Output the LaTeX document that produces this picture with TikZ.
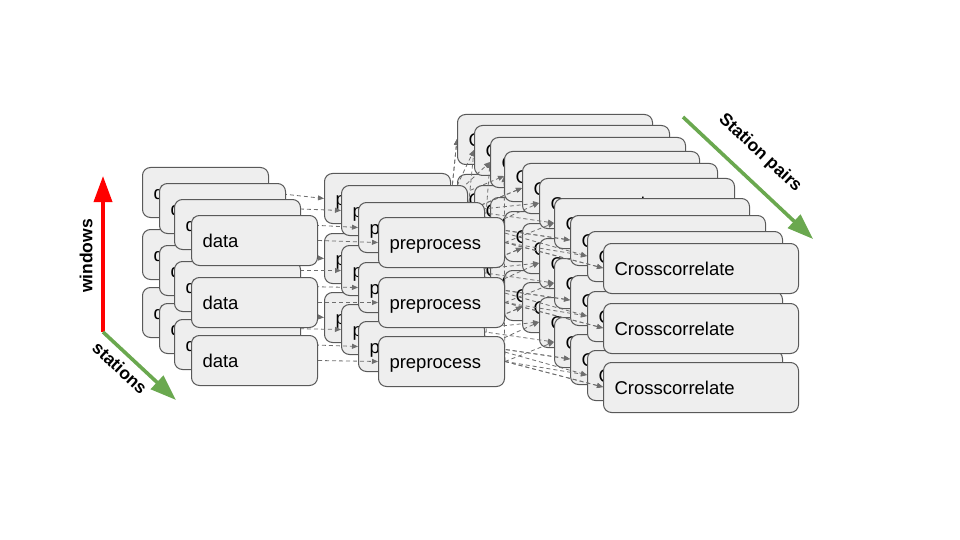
\documentclass[tikz,border=0pt]{standalone}
\usepackage{fontspec}
\setmainfont{Liberation Sans}
\usetikzlibrary{arrows.meta}
\pgfdeclarelayer{back}
\pgfsetlayers{back,main}
\definecolor{boxfill}{HTML}{EEEEEE}
\definecolor{boxline}{HTML}{595959}
\definecolor{conncol}{HTML}{6E6E6E}
\definecolor{axgreen}{HTML}{6AA84F}
\definecolor{axred}{HTML}{FF0000}
\newcommand{\bxstrut}{\rule[-3pt]{0pt}{20pt}}
\begin{document}
\begin{tikzpicture}[x=1pt,y=-1pt,
  box/.style={draw=boxline, fill=boxfill, line width=1pt, rounded corners=8pt,
    minimum height=50pt, inner xsep=11pt, inner ysep=0pt, align=left,
    anchor=north west, font=\fontsize{18.5}{22}\selectfont},
  dbox/.style={box, text width=104pt},
  cbox/.style={box, text width=173pt},
  conn/.style={draw=conncol, line width=0.8pt, dash pattern=on 4pt off 3pt,
    -{Triangle[length=6pt,width=5pt]}},
  lbl/.style={font=\bfseries\fontsize{17.5}{21}\selectfont, inner sep=0pt},
  bigarrow/.style={line width=3.6pt, -{Triangle[length=26pt,width=18pt]}}
]
\useasboundingbox (0,0) rectangle (960,540);

% ---- crosscorrelate stack: entry points ----
\begin{pgfonlayer}{back}
\foreach \k/\a/\b/\x/\y in {1/1/1/457/114, 2/1/2/474/125, 3/1/3/490/137,
    4/1/4/504/151, 5/2/2/522/163, 6/2/3/539/178, 7/2/4/554/198,
    8/3/3/570/215, 9/3/4/587/231, 10/4/4/603/243}{
  \foreach \r/\dy in {1/0, 2/60, 3/119}{
    \coordinate (cw-\k-\r) at (\x, \y+\dy+25);
  }
}
\end{pgfonlayer}

% ---- data and preprocess stacks ----
\foreach \i/\dx/\dyy/\px/\pyy in {1/142/167/324/173, 2/159/183/341/185,
    3/174/199/358/202, 4/191/215/378/217}{
  \foreach \r/\ddy/\pdy in {1/0/0, 2/62/60, 3/120/119}{
    \node[dbox] (d-\i-\r) at (\dx, \dyy+\ddy) {\bxstrut data};
    \node[dbox] (p-\i-\r) at (\px, \pyy+\pdy) {\bxstrut preprocess};
    \draw[conn] (d-\i-\r.east) -- (p-\i-\r.west);
  }
}

% ---- crosscorrelate stack (behind) ----
\begin{pgfonlayer}{back}
\foreach \k/\a/\b/\x/\y in {1/1/1/457/114, 2/1/2/474/125, 3/1/3/490/137,
    4/1/4/504/151, 5/2/2/522/163, 6/2/3/539/178, 7/2/4/554/198,
    8/3/3/570/215, 9/3/4/587/231, 10/4/4/603/243}{
  \foreach \r/\dy in {1/0, 2/60, 3/119}{
    \draw[conn] (p-\a-\r.east) -- (cw-\k-\r);
    \draw[conn] (p-\b-\r.east) -- (cw-\k-\r);
  }
  \foreach \r/\dy in {1/0, 2/60, 3/119}{
    \node[cbox] (c-\k-\r) at (\x, \y+\dy) {\bxstrut Crosscorrelate};
  }
}
\end{pgfonlayer}

% ---- axes ----
\coordinate (ax0) at (103,332);
\coordinate (axw) at (103,176);
\coordinate (axs) at (176,400);
\coordinate (sp0) at (683,117);
\coordinate (sp1) at (813,239);
\draw[bigarrow, axred] (ax0) -- (axw);
\draw[bigarrow, axgreen] (ax0) -- (axs);
\draw[bigarrow, axgreen] (sp0) -- (sp1);
\node[lbl, rotate=90] (wlbl) at (86,256) {windows};
\node[lbl, rotate=-43] (slbl) at (120,368) {stations};
\node[lbl, rotate=-43] (splbl) at (760,153) {Station pairs};
\end{tikzpicture}
\end{document}
